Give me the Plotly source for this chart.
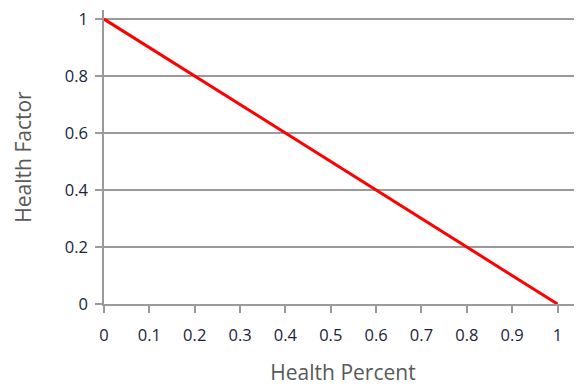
import plotly.graph_objects as go

health_percent = [0, 1]
health_factor = [1, 0]
x_ticks = [0, 0.1, 0.2, 0.3, 0.4, 0.5, 0.6, 0.7, 0.8, 0.9, 1]
x_tick_labels = ["0", "0.1", "0.2", "0.3", "0.4", "0.5", "0.6", "0.7", "0.8", "0.9", "1"]
y_ticks = [0, 0.2, 0.4, 0.6, 0.8, 1]
y_tick_labels = ["0", "0.2", "0.4", "0.6", "0.8", "1"]

fig = go.Figure()
fig.add_trace(go.Scatter(x=health_percent, y=health_factor, mode="lines",
                         line=dict(color="#ff0000", width=3), showlegend=False))

font = "'Open Sans', Lato, sans-serif"
fig.update_layout(
    width=582, height=386,
    margin=dict(l=96, r=8, t=2, b=90),
    paper_bgcolor="white", plot_bgcolor="white",
    font=dict(family=font),
    xaxis=dict(range=[0, 1.054], tickvals=x_ticks, ticktext=x_tick_labels,
               showgrid=False, zeroline=False, showline=True, linecolor="#9a9a9a", linewidth=1.5,
               ticks="outside", ticklen=7, tickwidth=1.5, tickcolor="#9a9a9a",
               tickfont=dict(size=16.5, color="#20243a"), ticklabelstandoff=8,
               ticklabeloverflow="allow", automargin=False,
               title=dict(text="Health Percent", font=dict(size=21, color="#595959"), standoff=21)),
    yaxis=dict(range=[0, 1.032], tickvals=y_ticks, ticktext=y_tick_labels,
               showgrid=True, gridcolor="#9a9a9a", gridwidth=1.5, zeroline=False,
               showline=True, linecolor="#9a9a9a", linewidth=1.5,
               ticks="outside", ticklen=7, tickwidth=1.5, tickcolor="#9a9a9a",
               tickfont=dict(size=16.5, color="#20243a"), ticklabelstandoff=4,
               ticklabeloverflow="allow", automargin=False,
               title=dict(text="Health Factor", font=dict(size=21, color="#595959"), standoff=27)),
)
fig.write_html("out.html")
